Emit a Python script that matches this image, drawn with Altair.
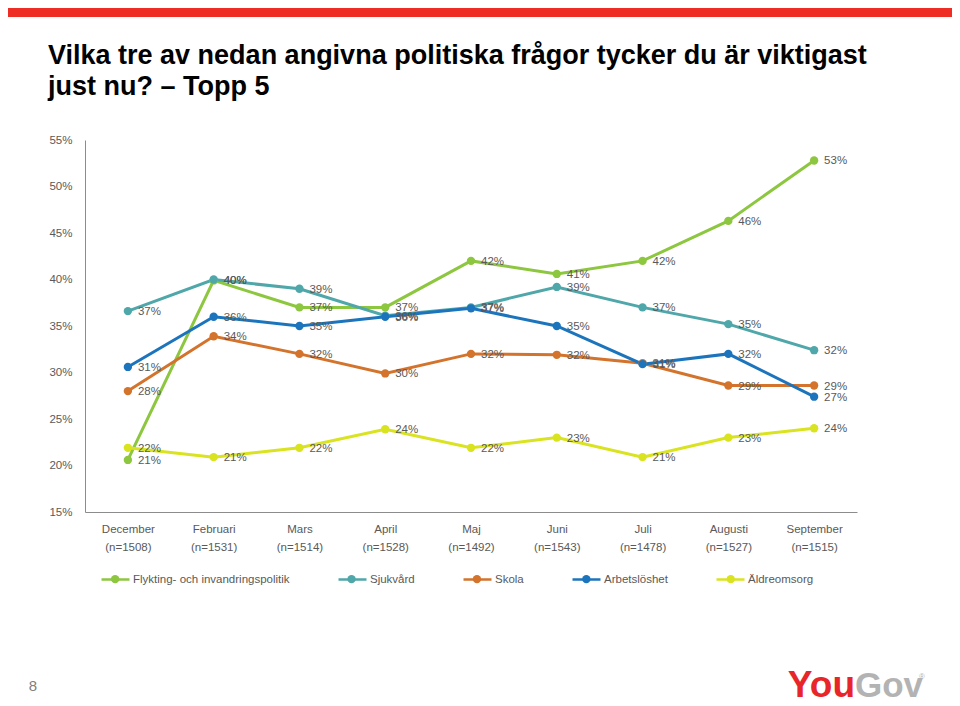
import altair as alt
import pandas as pd

months = ["December", "Februari", "Mars", "April", "Maj", "Juni", "Juli", "Augusti", "September"]
sample_n = ["(n=1508)", "(n=1531)", "(n=1514)", "(n=1528)", "(n=1492)", "(n=1543)", "(n=1478)", "(n=1527)", "(n=1515)"]
series = ["Flykting- och invandringspolitik", "Sjukvård", "Skola", "Arbetslöshet", "Äldreomsorg"]
colors = ["#8DC63F", "#4FA7A9", "#D3732C", "#1C75BC", "#D9E31F"]

flykting = [20.6, 39.9, 37.0, 37.0, 42.0, 40.6, 42.0, 46.3, 52.8]
sjukvard = [36.6, 40.0, 39.0, 36.1, 37.0, 39.2, 37.0, 35.2, 32.4]
skola = [28.0, 33.9, 32.0, 29.9, 32.0, 31.9, 31.0, 28.6, 28.6]
arbetsloshet = [30.6, 36.0, 35.0, 36.0, 36.9, 35.0, 30.9, 32.0, 27.4]
aldreomsorg = [21.9, 20.9, 21.9, 23.9, 21.9, 23.0, 20.9, 23.0, 24.0]

y_ticks = [15, 20, 25, 30, 35, 40, 45, 50, 55]

title_lines = ["Vilka tre av nedan angivna politiska frågor tycker du är viktigast",
               "just nu? – Topp 5"]

keys = [m + "|" + n for m, n in zip(months, sample_n)]
rows = []
for s, vals in zip(series, [flykting, sjukvard, skola, arbetsloshet, aldreomsorg]):
    for k, v in zip(keys, vals):
        rows.append({"key": k, "series": s, "grp": s, "value": v})
df = pd.DataFrame(rows)

SANS = "Liberation Sans, Arial, sans-serif"
GREY = "#595959"

x_enc = alt.X("key:N", sort=keys, scale=alt.Scale(type="point", padding=0.5),
              axis=alt.Axis(title=None, labelExpr="split(datum.label, '|')", labelAngle=0,
                            ticks=False, domainColor="#8C8C8C", labelColor=GREY,
                            labelFont=SANS, labelFontSize=11.5, labelPadding=11,
                            labelLineHeight=18, labelBaseline="top"))
y_enc = alt.Y("value:Q", scale=alt.Scale(domain=[15, 55], nice=False, zero=False),
              axis=alt.Axis(title=None, values=y_ticks, labelExpr="datum.value + '%'",
                            grid=False, ticks=False, domainColor="#8C8C8C", labelColor=GREY,
                            labelFont=SANS, labelFontSize=11.5, labelPadding=13))

# line legend (stroke symbol) with visible labels
line_legend = alt.Legend(
    orient="none", legendX=15, legendY=424, direction="horizontal",
    title=None, symbolType="M-1,0L1,0", symbolSize=784, symbolStrokeWidth=2.5,
    labelFont=SANS, labelFontSize=11.5, labelColor=GREY,
    labelOffset=2, columnPadding=43)
# dot legend overlaid on the centre of each line symbol (labels hidden)
point_legend = alt.Legend(
    orient="none", legendX=24.4, legendY=433, direction="horizontal",
    title=None, symbolType="circle", symbolSize=70,
    labelFont=SANS, labelFontSize=11.5, labelColor=GREY, labelOpacity=0,
    labelOffset=11.8, columnPadding=56.4)

base = alt.Chart(df).encode(x=x_enc, y=y_enc)

lines = base.mark_line(strokeWidth=3).encode(
    stroke=alt.Stroke("grp:N", sort=series, scale=alt.Scale(domain=series, range=colors),
                      legend=line_legend))
points = base.mark_point(filled=True, size=70, opacity=1).encode(
    color=alt.Color("series:N", sort=series, scale=alt.Scale(domain=series, range=colors),
                    legend=point_legend))
labels = base.transform_calculate(
    label="format(datum.value, '.0f') + '%'"
).mark_text(align="left", baseline="middle", dx=10, dy=1, font=SANS, fontSize=11.5,
            color=GREY).encode(text="label:N")

red_bar = alt.Chart(pd.DataFrame({"t": ["x"]})).mark_rect(color="#EE2D24").encode(
    x=alt.value(-77), x2=alt.value(867), y=alt.value(-132), y2=alt.value(-123))
page_no = alt.Chart(pd.DataFrame({"t": ["8"]})).mark_text(
    font=SANS, fontSize=15, color="#7F7F7F", align="center", baseline="middle").encode(
    text="t:N", x=alt.value(-52), y=alt.value(546))
you = alt.Chart(pd.DataFrame({"t": ["You"]})).mark_text(
    font=SANS, fontWeight="bold", fontSize=37, color="#E8262A",
    align="right", baseline="alphabetic").encode(text="t:N", x=alt.value(770), y=alt.value(557))
gov = alt.Chart(pd.DataFrame({"t": ["Gov"]})).mark_text(
    font=SANS, fontWeight="bold", fontSize=35, color="#B3B3B3",
    align="left", baseline="alphabetic").encode(text="t:N", x=alt.value(770), y=alt.value(557))
reg = alt.Chart(pd.DataFrame({"t": ["®"]})).mark_text(
    font=SANS, fontSize=8, color="#B3B3B3",
    align="left", baseline="middle").encode(text="t:N", x=alt.value(834), y=alt.value(537))

chart = alt.layer(lines, points, labels, red_bar, page_no, you, gov, reg).properties(
    width=772, height=372,
    autosize=alt.AutoSizeParams(type="none"),
    padding={"left": 77, "top": 132, "right": 95, "bottom": 186},
    title=alt.TitleParams(text=title_lines, anchor="start", frame="group", dx=-37, dy=114,
                          offset=0, baseline="alphabetic",
                          font=SANS, fontSize=27, fontWeight="bold", color="#000000",
                          lineHeight=31),
).resolve_scale(color="independent", stroke="independent").configure_view(stroke=None)

chart.save("out.html", embed_options={"renderer": "svg", "actions": False})
